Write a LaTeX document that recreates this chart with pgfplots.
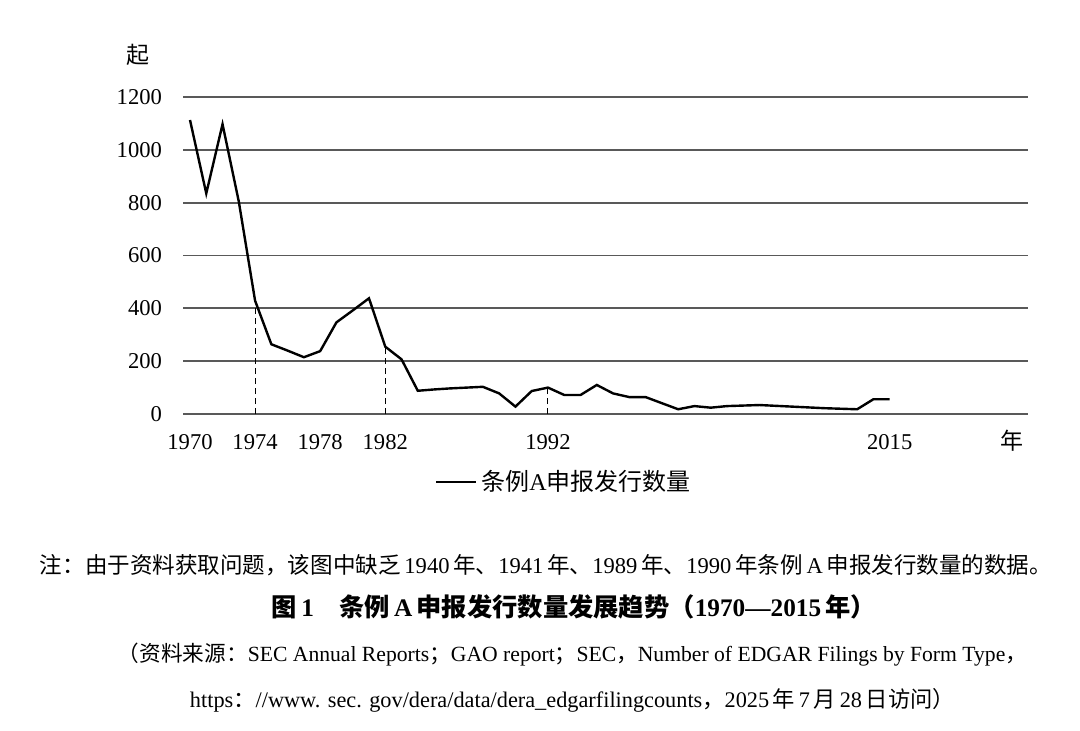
\documentclass[border=0pt]{standalone}
\usepackage{pgfplots}
\pgfplotsset{compat=1.18}
\usepackage{fontspec}
\setmainfont{Liberation Serif}
\newfontfamily\cjk{Noto Sans CJK SC}
\newcommand\C[1]{{\cjk #1}}
\begin{document}
\begin{tikzpicture}
\path (0,0) rectangle (540pt,-365pt);
\begin{axis}[
  at={(91.5pt,-207pt)}, anchor=south west,
  scale only axis, width=422.5pt, height=158.5pt,
  xmin=-0.43, xmax=51.5, ymin=0, ymax=1200,
  axis line style={draw=none},
  ytick={0,200,...,1200}, yticklabels={0,200,400,600,800,1000,1200},
  xtick={0,4,8,12,22,43}, xticklabels={1970,1974,1978,1982,1992,2015},
  major tick length=0pt,
  ymajorgrids, grid style={draw=black!65, line width=0.85pt},
  tick label style={font=\fontsize{11.3}{13}\selectfont},
  yticklabel style={xshift=-7pt},
  xticklabel style={yshift=-6.5pt},
  clip=false,
  legend style={at={(axis description cs:0.452,-0.2145)}, anchor=center, draw=none, fill=none,
    font=\fontsize{12}{14}\selectfont, legend cell align=left},
  legend image code/.code={\draw[#1] (0pt,0pt) -- (20pt,0pt);},
]
\addplot[black, line width=0.5pt, dash pattern=on 3pt off 2pt, forget plot] coordinates {(4,0) (4,429)};
\addplot[black, line width=0.5pt, dash pattern=on 3pt off 2pt, forget plot] coordinates {(12,0) (12,255)};
\addplot[black, line width=0.5pt, dash pattern=on 3pt off 2pt, forget plot] coordinates {(22,0) (22,100)};
\addplot[black, line width=1.2pt, sharp plot, mark=none] coordinates {
(0,1113) (1,835) (2,1097) (3,804) (4,429) (5,264) (6,240) (7,215) (8,238) (9,347)
(10,392) (11,438) (12,255) (13,207) (14,88) (15,93) (16,97) (17,100) (18,103) (19,78)
(20,28) (21,87) (22,100) (23,72) (24,72) (25,110) (26,78) (27,64) (28,64) (29,41)
(30,18) (31,30) (32,24) (33,30) (34,32) (35,34) (36,31) (37,28) (38,25) (39,22)
(40,20) (41,18) (42,56) (43,56)
};
\addlegendentry{\C{条例}A\C{申报发行数量}}
\end{axis}
\node[font=\fontsize{11.5}{13}\selectfont] at (69pt,-27.5pt) {\C{起}};
\node[font=\fontsize{11.5}{13}\selectfont] at (506pt,-220.5pt) {\C{年}};
\node at (273pt,-282.5pt) {\resizebox{506pt}{!}{\fontsize{10.5}{12}\selectfont \C{注：由于资料获取问题，该图中缺乏}\,1940\,\C{年、}1941\,\C{年、}1989\,\C{年、}1990\,\C{年条例}\,A\,\C{申报发行数量的数据。}}};
\node at (287pt,-303.5pt) {\resizebox{302pt}{!}{\fontsize{11}{13}\selectfont\bfseries \C{图}\,1\quad\C{条例}\,A\,\C{申报发行数量发展趋势（}1970—2015\,\C{年）}}};
\node at (286.25pt,-327.5pt) {\resizebox{454.5pt}{!}{\fontsize{10}{12}\selectfont \C{（资料来源：}SEC Annual Reports\C{；}GAO report\C{；}SEC\C{，}Number of EDGAR Filings by Form Type\C{，}}};
\node at (286.25pt,-350pt) {\resizebox{382.5pt}{!}{\fontsize{10}{12}\selectfont https\C{：}//www. sec. gov/dera/data/dera\_edgarfilingcounts\C{，}2025\,\C{年}\,7\,\C{月}\,28\,\C{日访问）}}};
\end{tikzpicture}
\end{document}
